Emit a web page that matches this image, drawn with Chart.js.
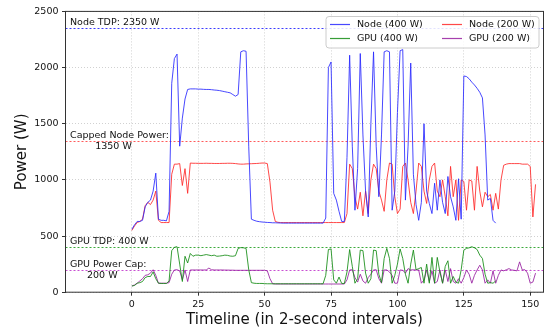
<!DOCTYPE html>
<html>
<head>
<meta charset="utf-8">
<script src="https://cdn.jsdelivr.net/npm/chart.js@4/dist/chart.umd.min.js"></script>
<style>
  html, body { margin: 0; padding: 0; background: #fff; }
  #wrap { width: 546px; height: 329px; position: relative; }
</style>
</head>
<body>
<div id="wrap"><canvas id="c" width="546" height="329"></canvas></div>
<script>
// ---- data ----
const seriesLabels = ['Node (400 W)', 'GPU (400 W)', 'Node (200 W)', 'GPU (200 W)'];

const node400 = [560,600,630,630,640,760,800,820,900,1060,650,640,640,635,720,1860,2080,2120,1300,1550,
  1720,1805,1810,1810,1810,1808,1808,1806,1805,1805,1803,1800,1798,1795,1790,1785,1780,1775,1760,1745,
  1760,2140,2150,2145,1300,650,640,632,628,625,623,621,620,618,618,617,616,615,615,615,
  615,615,615,615,615,615,615,615,615,615,615,615,615,660,2000,2050,880,820,720,630,
  630,1200,2110,1300,730,1100,2125,1400,900,670,1500,2140,1300,850,1400,2140,2150,2140,730,900,
  1600,2150,2160,820,1300,2040,1050,780,640,800,1500,900,790,700,970,730,1000,800,700,1030,
  850,760,640,1010,650,1925,1920,1900,1870,1845,1815,1780,1730,1400,820,835,640,615];

const gpu400 = [55,60,80,85,95,130,140,140,180,120,80,78,78,78,100,370,400,405,250,95,
  320,260,345,320,330,330,325,330,335,330,325,330,320,322,325,330,328,322,320,325,
  390,397,395,390,200,85,80,78,78,78,76,75,75,75,75,75,75,75,75,75,
  75,75,75,75,75,75,75,75,75,75,75,75,75,150,380,385,110,80,135,78,
  78,180,380,230,80,120,375,370,170,80,120,375,370,160,85,300,390,300,80,150,
  250,385,300,160,80,250,375,200,210,220,80,250,80,310,80,310,180,80,230,280,
  80,140,90,80,200,375,390,395,405,395,380,330,300,160,80,85,80,100];

const node200 = [550,590,620,630,650,770,800,780,820,900,640,620,620,620,620,1050,1140,1140,1145,950,
  1100,880,1150,1148,1148,1147,1147,1147,1148,1147,1147,1146,1146,1146,1147,1147,1148,1148,1147,1145,
  1142,1140,1140,1142,1143,1144,1145,1146,1148,1150,1150,1145,980,730,630,622,620,620,620,620,
  620,620,620,620,620,620,620,620,620,620,620,620,620,620,620,620,620,620,620,620,
  620,700,1140,1100,850,740,890,680,900,700,1000,1140,1100,900,820,720,1000,1150,1140,850,
  700,740,1120,1150,1000,800,700,900,1150,1120,900,790,1000,1120,1150,900,850,1000,850,680,
  1120,850,1000,640,1000,985,730,1000,990,730,1120,900,760,890,850,870,730,880,740,1000,
  1130,1140,1145,1145,1145,1145,1145,1140,1140,1140,1120,670,960];

const gpu200 = [55,65,80,100,120,150,155,170,200,150,80,80,80,80,85,160,198,200,190,110,
  198,95,198,198,198,198,198,198,198,215,200,198,198,198,198,197,197,196,196,195,
  195,195,195,195,195,195,195,195,195,195,195,190,120,75,73,73,73,73,73,73,
  73,73,73,73,73,73,73,73,73,73,73,73,73,73,73,73,73,73,73,73,
  73,110,198,200,130,90,160,100,80,130,160,198,200,120,80,198,198,180,150,80,
  80,198,195,170,210,198,200,198,198,80,110,198,95,190,80,95,198,80,198,95,
  210,95,80,120,80,130,198,160,80,150,198,240,198,80,110,80,190,80,150,198,
  190,200,210,198,195,190,270,198,200,170,80,90,170];

const refLevels = [2350, 1350, 400, 200];
const refLabels = [['Node TDP: 2350 W'], ['Capped Node Power:', '1350 W'], ['GPU TDP: 400 W'], ['GPU Power Cap:', '200 W']];

const xTicks = [0, 25, 50, 75, 100, 125, 150];
const yTicks = [0, 500, 1000, 1500, 2000, 2500];

// ---- styles ----
const colors = ['rgba(40,40,255,0.85)', 'rgba(20,140,20,0.85)', 'rgba(255,40,40,0.85)', 'rgba(150,30,160,0.85)'];
const refColors = ['rgb(60,60,255)', 'rgb(255,90,90)', 'rgb(60,170,60)', 'rgb(200,80,210)'];
const FONT = "'DejaVu Sans', sans-serif";

function toXY(arr) { return arr.map((v, i) => ({ x: i, y: v })); }
const allSeries = [node400, gpu400, node200, gpu200];

const datasets = allSeries.map((arr, k) => ({
  label: seriesLabels[k],
  data: toXY(arr),
  borderColor: colors[k],
  backgroundColor: colors[k],
  borderWidth: 1,
  pointRadius: 0,
  tension: 0,
  fill: false
}));

const overlay = {
  id: 'overlay',
  beforeDatasetsDraw(chart) {
    const { ctx, chartArea: a, scales: { y } } = chart;
    ctx.save();
    ctx.lineWidth = 1;
    ctx.setLineDash([2, 2]);
    refLevels.forEach((lv, i) => {
      const py = Math.round(y.getPixelForValue(lv)) + 0.5;
      ctx.strokeStyle = refColors[i];
      ctx.beginPath(); ctx.moveTo(a.left, py); ctx.lineTo(a.right, py); ctx.stroke();
    });
    ctx.restore();
  },
  afterDraw(chart) {
    const { ctx, chartArea: a, scales: { y } } = chart;
    ctx.save();
    ctx.font = '9.5px ' + FONT;
    ctx.fillStyle = '#111';
    ctx.textBaseline = 'middle';
    ctx.textAlign = 'left';
    const tx = 70;
    refLevels.forEach((lv, i) => {
      const py = y.getPixelForValue(lv);
      const lines = refLabels[i];
      if (lines.length === 1) {
        ctx.fillText(lines[0], tx, py - 6);
      } else {
        const w0 = ctx.measureText(lines[0]).width;
        ctx.fillText(lines[0], tx, py - 5);
        const w1 = ctx.measureText(lines[1]).width;
        ctx.fillText(lines[1], tx + (w0 - w1) / 2 - 6, py + 6);
      }
    });
    // frame
    ctx.strokeStyle = '#333';
    ctx.lineWidth = 1;
    ctx.setLineDash([]);
    ctx.strokeRect(a.left, a.top, a.right - a.left, a.bottom - a.top);
    // legend
    const lx = 326, ly = 16.5, lw = 213, lh = 31.5;
    ctx.fillStyle = 'rgba(255,255,255,0.85)';
    ctx.strokeStyle = '#cccccc';
    ctx.beginPath();
    if (ctx.roundRect) ctx.roundRect(lx, ly, lw, lh, 3); else ctx.rect(lx, ly, lw, lh);
    ctx.fill(); ctx.stroke();
    const cols = [330, 442];
    const rows = [24.5, 38.5];
    [0, 1, 2, 3].forEach((k, idx) => {
      const cx = cols[Math.floor(idx / 2)];
      const cy = rows[idx % 2];
      ctx.strokeStyle = colors[k];
      ctx.lineWidth = 1.2;
      ctx.beginPath(); ctx.moveTo(cx, cy); ctx.lineTo(cx + 20, cy); ctx.stroke();
      ctx.fillStyle = '#111';
      ctx.font = '9.5px ' + FONT;
      ctx.textAlign = 'left';
      ctx.textBaseline = 'middle';
      ctx.fillText(seriesLabels[k], cx + 27, cy);
    });
    ctx.restore();
  }
};

new Chart(document.getElementById('c'), {
  type: 'line',
  data: { datasets },
  options: {
    responsive: false,
    animation: false,
    devicePixelRatio: 1,
    layout: { padding: { top: 11.4, right: 2.5, left: 0, bottom: 0 } },
    plugins: { legend: { display: false }, tooltip: { enabled: false } },
    scales: {
      x: {
        type: 'linear',
        min: -25, max: 155,
        afterBuildTicks: (s) => { s.ticks = xTicks.map(v => ({ value: v })); },
        afterFit: (s) => { s.height = 36.8; },
        grid: { color: 'rgba(150,150,150,0.55)', lineWidth: 0.8, tickLength: 3.5, tickColor: '#333', tickWidth: 1 },
        border: { display: false, dash: [1, 2] },
        ticks: { color: '#111', font: { family: FONT, size: 9.5 }, padding: 3, maxRotation: 0, autoSkip: false,
                 callback: (v) => String(v) },
        title: { display: true, text: 'Timeline (in 2-second intervals)', color: '#111', font: { family: FONT, size: 15 }, padding: { top: 0, bottom: 0 } }
      },
      y: {
        type: 'linear',
        min: 0, max: 2500,
        afterBuildTicks: (s) => { s.ticks = yTicks.map(v => ({ value: v })); },
        afterFit: (s) => { s.width = 65.5; },
        grid: { color: 'rgba(150,150,150,0.55)', lineWidth: 0.8, tickLength: 3.5, tickColor: '#333', tickWidth: 1 },
        border: { display: false, dash: [1, 2] },
        ticks: { color: '#111', font: { family: FONT, size: 9.5 }, padding: 3.5, autoSkip: false,
                 callback: (v) => String(v) },
        title: { display: true, text: 'Power (W)', color: '#111', font: { family: FONT, size: 15 }, padding: { top: 13, bottom: 0 } }
      }
    }
  },
  plugins: [overlay]
});
</script>
</body>
</html>
